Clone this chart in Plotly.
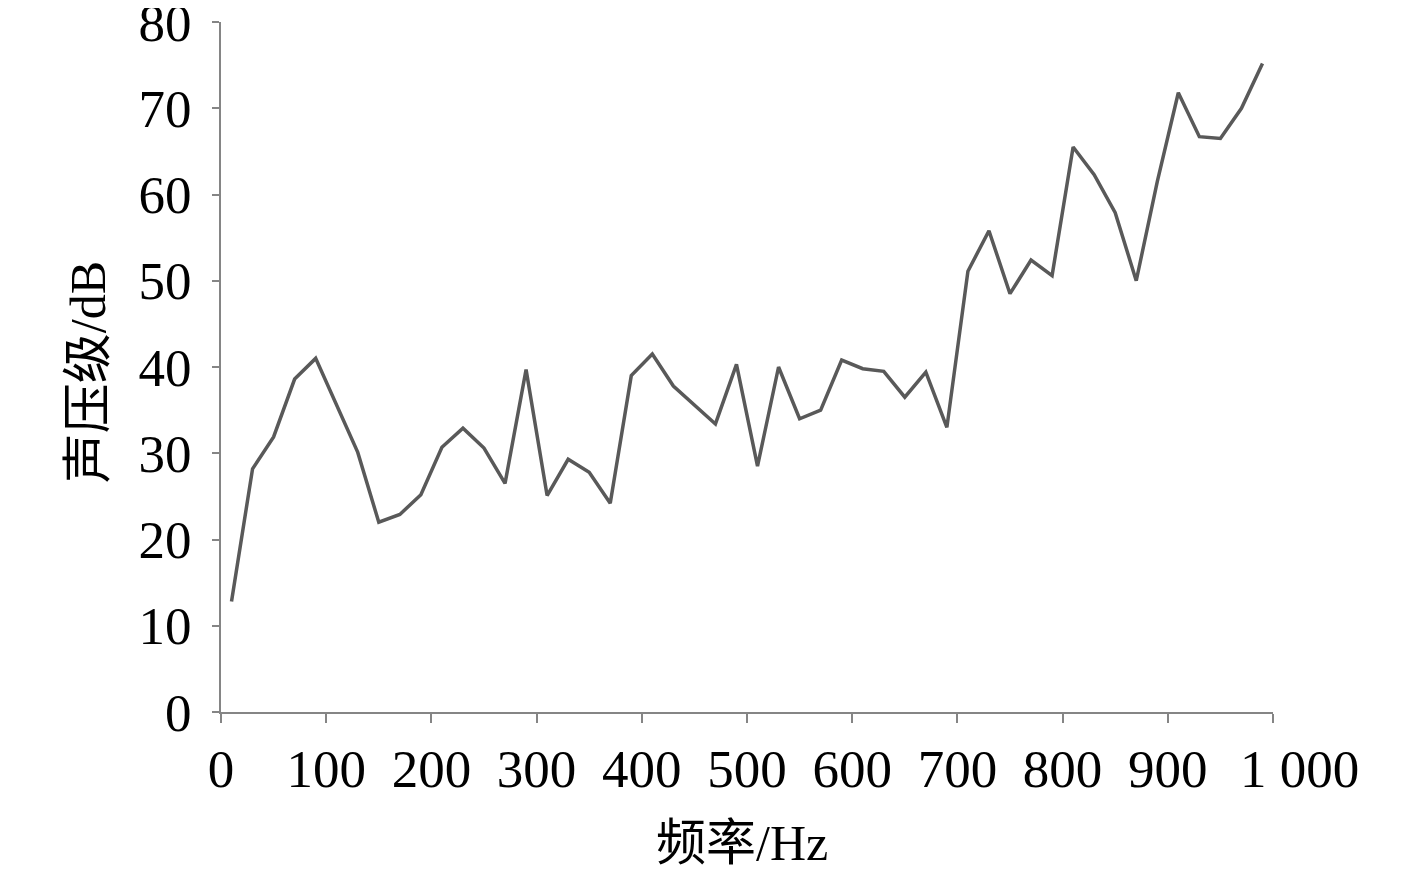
"""声压级-频率曲线（黑白论文风格）。"""

import plotly.graph_objects as go

# 频率 (Hz)，每 20 Hz 一个点
freq_hz = [
    10, 30, 50, 70, 90, 110, 130, 150, 170, 190,
    210, 230, 250, 270, 290, 310, 330, 350, 370, 390,
    410, 430, 450, 470, 490, 510, 530, 550, 570, 590,
    610, 630, 650, 670, 690, 710, 730, 750, 770, 790,
    810, 830, 850, 870, 890, 910, 930, 950, 970, 990,
]
# 声压级 (dB)
spl_db = [
    12.8, 28.2, 31.9, 38.6, 41.0, 35.6, 30.1, 22.0, 22.9, 25.2,
    30.7, 32.9, 30.6, 26.5, 39.7, 25.1, 29.3, 27.8, 24.2, 39.0,
    41.5, 37.8, 35.6, 33.4, 40.3, 28.5, 40.0, 34.0, 35.0, 40.8,
    39.8, 39.5, 36.5, 39.4, 33.0, 51.1, 55.8, 48.5, 52.4, 50.6,
    65.5, 62.3, 57.9, 50.0, 61.5, 71.8, 66.7, 66.5, 70.0, 75.2,
]

x_ticks = [0, 100, 200, 300, 400, 500, 600, 700, 800, 900, 1000]
# 原图 “1 000” 略偏右，用前置空白模拟
x_ticktext = ["0", "100", "200", "300", "400", "500", "600", "700", "800", "900", "\u20031\u00a0000"]
y_ticks = [0, 10, 20, 30, 40, 50, 60, 70, 80]

SERIF = "Liberation Serif, Times New Roman, Noto Sans CJK SC, serif"
AXIS = "#858585"

fig = go.Figure()
fig.add_trace(
    go.Scatter(
        x=freq_hz,
        y=spl_db,
        mode="lines",
        line=dict(color="#595959", width=3.5),
        showlegend=False,
        cliponaxis=False,
    )
)

# 页面 body 默认有 8px 边距，图尺寸和边距相应减掉
fig.update_layout(
    width=1409,
    height=863,
    margin=dict(l=213, r=144, t=14, b=159),
    plot_bgcolor="white",
    paper_bgcolor="white",
    font=dict(family=SERIF, color="black", size=53),
    xaxis=dict(
        range=[0, 1000],
        tickvals=x_ticks,
        ticktext=x_ticktext,
        tickangle=0,
        automargin=False,
        ticklabeloverflow="allow",
        showgrid=False,
        zeroline=False,
        showline=True,
        linecolor=AXIS,
        linewidth=2,
        ticks="outside",
        ticklen=9,
        tickwidth=2,
        tickcolor=AXIS,
        tickfont=dict(family=SERIF, size=53, color="black"),
    ),
    yaxis=dict(
        range=[0, 80],
        tickvals=y_ticks,
        automargin=False,
        ticklabeloverflow="allow",
        ticklabelstandoff=10,
        showgrid=False,
        zeroline=False,
        showline=True,
        linecolor=AXIS,
        linewidth=2,
        ticks="outside",
        ticklen=7,
        tickwidth=2,
        tickcolor=AXIS,
        tickfont=dict(family=SERIF, size=53, color="black"),
    ),
    annotations=[
        dict(
            text="频率/Hz",
            xref="paper", yref="paper",
            x=0.4955, y=-0.19,
            xanchor="center", yanchor="middle",
            showarrow=False,
            font=dict(family=SERIF, size=50, color="black"),
        ),
        dict(
            text="声压级/dB",
            xref="paper", yref="paper",
            x=-0.127, y=0.493,
            xanchor="center", yanchor="middle",
            textangle=-90,
            showarrow=False,
            font=dict(family=SERIF, size=50, color="black"),
        ),
    ],
)

fig.write_html("out.html")
